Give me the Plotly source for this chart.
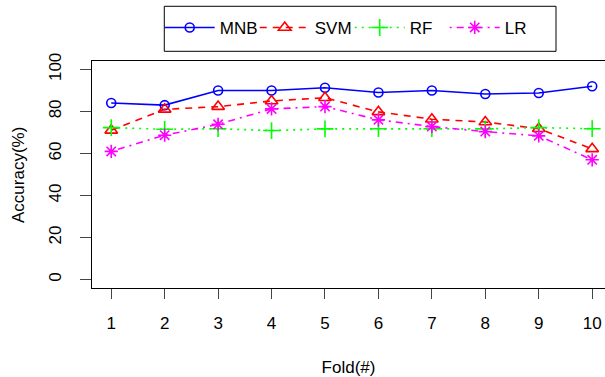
import plotly.graph_objects as go

folds = [1, 2, 3, 4, 5, 6, 7, 8, 9, 10]
mnb = [84, 83, 90, 90, 91.3, 89, 90, 88.3, 88.8, 92]
svm = [71, 81, 82.3, 85, 86.5, 79.8, 76.3, 75, 71.8, 62.2]
rf = [72.3, 71.5, 71.8, 70.9, 71.7, 71.8, 71.8, 71.7, 72.3, 71.8]
lr = [61, 68.7, 73.9, 81.2, 82.3, 76, 72.8, 70.4, 68.4, 57]

y_ticks = [0, 20, 40, 60, 80, 100]
FONT = "Liberation Sans, Arial, Helvetica, sans-serif"

fig = go.Figure()
series = [
    ("MNB", mnb, "#0000FF", "solid", "circle-open", 9),
    ("SVM", svm, "#FF0000", "7px,6px", "triangle-up-open", 11),
    ("RF", rf, "#00FF00", "2px,5px", "cross-thin-open", 12),
    ("LR", lr, "#FF00FF", "2px,5px,7px,5px", "asterisk-open", 11),
]
for name, vals, col, dash, sym, sz in series:
    fig.add_trace(go.Scatter(
        x=folds, y=vals, name=name, mode="lines+markers",
        line=dict(color=col, width=1.6, dash=dash),
        marker=dict(symbol=sym, size=sz, color=col, line=dict(color=col, width=1.6)),
    ))

# legend border box
fig.add_shape(type="rect", xref="paper", yref="paper",
              x0=0.1409, x1=0.9045, y0=1.0427, y1=1.2410,
              line=dict(color="black", width=1), fillcolor="rgba(0,0,0,0)")

# y-axis title
fig.add_annotation(text="Accuracy(%)", xref="paper", yref="paper",
                   x=-0.1433, y=0.5, xanchor="center", yanchor="middle",
                   textangle=-90, showarrow=False, font=dict(size=17, family=FONT))

fig.update_layout(
    width=605, height=377,
    margin=dict(l=92, r=0, t=61, b=89, autoexpand=False),
    paper_bgcolor="white", plot_bgcolor="white",
    font=dict(family=FONT, size=17, color="black"),
    showlegend=True,
    legend=dict(orientation="h", x=0.132, y=1.225, xanchor="left", yanchor="top",
                entrywidth=30, entrywidthmode="pixels", bgcolor="rgba(0,0,0,0)",
                borderwidth=0, font=dict(size=17, family=FONT), itemwidth=50),
    xaxis=dict(range=[0.64, 10.24], tickvals=folds, ticktext=[str(v) for v in folds],
               automargin=False,
               showgrid=False, zeroline=False, showline=True, mirror=True,
               linecolor="black", linewidth=1, ticks="outside", ticklen=10,
               tickcolor="#444", ticklabelstandoff=10,
               title=dict(text="Fold(#)", standoff=28, font=dict(size=17))),
    yaxis=dict(range=[-4, 104], tickvals=y_ticks, showgrid=False, zeroline=False,
               automargin=False,
               showline=True, mirror=False, linecolor="black", linewidth=1,
               ticks="outside", ticklen=11, tickcolor="#444", tickangle=-90,
               ticklabelstandoff=12),
)

fig.write_html("out.html", post_script="document.body.style.margin='0';",
               config={"displayModeBar": False})
